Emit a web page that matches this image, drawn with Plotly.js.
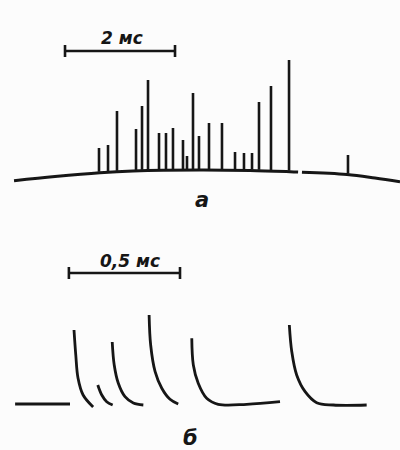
<!DOCTYPE html>
<html>
<head>
<meta charset="utf-8">
<script src="https://cdn.plot.ly/plotly-3.0.1.min.js"></script>
<style>html,body{margin:0;padding:0;background:#fcfcfc;}</style>
</head>
<body>
<div id="chart" style="width:400px;height:450px;"></div>
<script>
// ---- Panel а: spike train on a curved baseline (time in ms, arbitrary amplitude units)
var baseT1 = [0.255, 1.0, 1.818, 2.418, 3.636, 4.545, 5.273, 5.42];
var baseV1 = [44.3, 48.5, 52.3, 54.0, 55.0, 54.5, 53.3, 53.0];
var baseT2 = [5.49, 6.309, 6.818, 7.273];
var baseV2 = [52.7, 50.5, 47.0, 43.3];
var spikeT = [1.80, 1.964, 2.127, 2.473, 2.582, 2.691, 2.891, 3.018, 3.145, 3.327, 3.40,
              3.509, 3.618, 3.80, 4.036, 4.273, 4.436, 4.582, 4.709, 4.927, 5.255, 6.327];
var spikePeak = [77, 80, 114, 96, 119, 145, 92, 92, 97, 85, 69,
                 132, 89, 102, 102, 73, 72, 72, 123, 139, 165, 70];
var scaleA = {label: "2 мс", ms: 2, start: 1.182};

// ---- Panel б: individual decaying responses (time in ms)
var lead = {t: [0.068, 0.315], v: [46, 46]};
var resp1 = {t: [0.333, 0.341, 0.351, 0.374, 0.419], v: [120, 95, 72, 55, 43]};
var resp2 = {t: [0.440, 0.458, 0.480, 0.507], v: [65, 55, 48.3, 45]};
var resp3 = {t: [0.505, 0.514, 0.532, 0.5625, 0.600, 0.645], v: [108, 85, 67, 53.3, 47, 45]};
var resp4 = {t: [0.671, 0.678, 0.698, 0.728, 0.765, 0.802], v: [135, 105, 78.3, 61.7, 50.7, 46]};
var resp5 = {t: [0.863, 0.870, 0.892, 0.930, 0.982, 1.110, 1.260], v: [111.7, 85, 66.7, 51.7, 45.7, 45.7, 48.3]};
var resp6 = {t: [1.302, 1.313, 1.335, 1.373, 1.425, 1.500, 1.650], v: [125, 98.3, 75, 58.3, 47.3, 45, 45]};
var scaleB = {label: "0,5 мс", ms: 0.5, start: 0.31};

var ink = '#161616';

function interpBase(t) {
  var T = baseT1.concat(baseT2), V = baseV1.concat(baseV2);
  for (var i = 0; i < T.length - 1; i++) {
    if (t >= T[i] && t <= T[i + 1]) {
      return V[i] + (V[i + 1] - V[i]) * (t - T[i]) / (T[i + 1] - T[i]);
    }
  }
  return V[V.length - 1];
}

var sx = [], sy = [];
spikeT.forEach(function (t, i) {
  sx.push(t, t, null);
  sy.push(interpBase(t) + 1, spikePeak[i], null);
});

var traces = [
  {x: baseT1, y: baseV1, xaxis: 'x', yaxis: 'y', mode: 'lines', line: {color: ink, width: 3, shape: 'spline'}},
  {x: baseT2, y: baseV2, xaxis: 'x', yaxis: 'y', mode: 'lines', line: {color: ink, width: 3, shape: 'spline'}},
  {x: sx, y: sy, xaxis: 'x', yaxis: 'y', mode: 'lines', line: {color: ink, width: 2.6}},
  {x: lead.t, y: lead.v, xaxis: 'x2', yaxis: 'y2', mode: 'lines', line: {color: ink, width: 2.8}}
];
[resp1, resp2, resp3, resp4, resp5, resp6].forEach(function (r) {
  traces.push({x: r.t, y: r.v, xaxis: 'x2', yaxis: 'y2', mode: 'lines',
    line: {color: ink, width: 2.8, shape: 'spline', smoothing: 1}});
});

function scaleShapes(sc, xr, yr, yv) {
  var x0 = sc.start, x1 = sc.start + sc.ms;
  var st = {color: ink, width: 2.6};
  return [
    {type: 'line', xref: xr, yref: yr, x0: x0, x1: x1, y0: yv, y1: yv, line: st},
    {type: 'line', xref: xr, yref: yr, x0: x0, x1: x0, y0: yv - 6, y1: yv + 6, line: st},
    {type: 'line', xref: xr, yref: yr, x0: x1, x1: x1, y0: yv - 6, y1: yv + 6, line: st}
  ];
}

var fnt = function (s) { return {family: 'DejaVu Sans', size: s, color: ink, style: 'italic', weight: 'bold'}; };

var layout = {
  width: 400, height: 450,
  margin: {l: 0, r: 0, t: 0, b: 0},
  paper_bgcolor: '#fcfcfc', plot_bgcolor: '#fcfcfc',
  showlegend: false,
  xaxis: {domain: [0, 1], range: [0, 7.2727], visible: false, fixedrange: true},
  yaxis: {domain: [0.5, 1], range: [0, 225], visible: false, fixedrange: true},
  xaxis2: {domain: [0, 1], range: [0, 1.8], visible: false, fixedrange: true, anchor: 'y2'},
  yaxis2: {domain: [0, 0.5], range: [0, 225], visible: false, fixedrange: true, anchor: 'x2'},
  shapes: scaleShapes(scaleA, 'x', 'y', 174).concat(scaleShapes(scaleB, 'x2', 'y2', 177)),
  annotations: [
    {xref: 'x', yref: 'y', x: scaleA.start + scaleA.ms / 2 + 0.03, y: 187, text: scaleA.label, showarrow: false, font: fnt(17)},
    {xref: 'x2', yref: 'y2', x: scaleB.start + scaleB.ms / 2 + 0.025, y: 189, text: scaleB.label, showarrow: false, font: fnt(17)},
    {xref: 'x', yref: 'y', x: 3.68, y: 25, text: 'а', showarrow: false, font: fnt(21)},
    {xref: 'x2', yref: 'y2', x: 0.855, y: 12, text: 'б', showarrow: false, font: fnt(21)}
  ]
};

Plotly.newPlot('chart', traces, layout, {displayModeBar: false, staticPlot: true});
</script>
</body>
</html>
